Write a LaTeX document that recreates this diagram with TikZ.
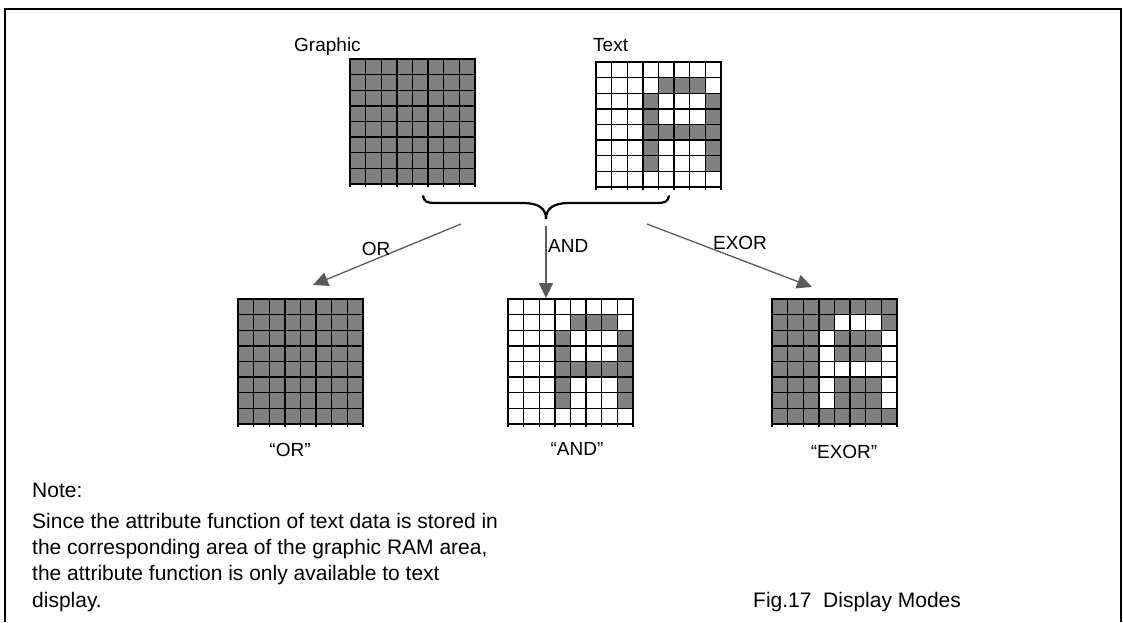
\documentclass[tikz,border=0pt]{standalone}
\usepackage{fontspec}
\setmainfont{Liberation Sans}
\usetikzlibrary{arrows.meta}
\definecolor{cellgray}{HTML}{808080}
\definecolor{arrowgray}{HTML}{5A5A5A}
\newcommand\gridframe[1]{%
  \node[inner sep=0pt, minimum width=125pt, minimum height=125pt, anchor=north west] (#1) at (\gx,\gy) {};}
\newcommand\gridlines{%
  \foreach \v in {0,15.625,31.25,46.875,62.5,78.125,93.75,109.375,125} {
    \draw[gridln] ({\gx+\v},\gy) -- ({\gx+\v},{\gy+128});
  }
  \foreach \v in {0,15.625,31.25,46.875,62.5,78.125,93.75,109.375,125} {
    \draw[gridln] ({\gx-0.6},{\gy+\v}) -- ({\gx+125.6},{\gy+\v});
  }}
\newcommand\fillall[1]{%
  \fill[#1] (\gx,\gy) rectangle ++(125,125);}
\newcommand\letterA[1]{%
  \foreach \cc/\rr in {4/1,5/1,6/1,3/2,7/2,3/3,7/3,3/4,4/4,5/4,6/4,7/4,3/5,7/5,3/6,7/6}
    \fill[#1] ({\gx+\cc*15.625},{\gy+\rr*15.625}) rectangle ++(15.625,15.625);}
\begin{document}
\begin{tikzpicture}[x=1pt,y=-1pt,
  gridln/.style={line width=1.3pt, black},
  lbl/.style={font=\fontsize{19}{22}\selectfont, inner sep=0pt},
  notetxt/.style={font=\fontsize{21}{25}\selectfont, inner sep=0pt, anchor=base west},
  oparrow/.style={draw=arrowgray, line width=1.3pt, -{Triangle[length=15pt,width=14pt]}, arrowgray},
  bracepath/.style={line width=2.2pt, line cap=round, black}]
\useasboundingbox (0,0) rectangle (1123,622);
% frame (open at bottom)
\draw[line width=2pt] (5,622) -- (5,9) -- (1121,9) -- (1121,622);

% top labels
\node[lbl, anchor=base west] (lg) at (294,51) {Graphic};
\node[lbl, anchor=base west] (lt) at (593,51) {Text};

% Graphic grid
\def\gx{350}\def\gy{59}
\gridframe{gG}
\fillall{cellgray}
\gridlines

% Text grid
\def\gx{596}\def\gy{62}
\gridframe{gT}
\letterA{cellgray}
\gridlines

% OR result
\def\gx{238}\def\gy{299}
\gridframe{gOR}
\fillall{cellgray}
\gridlines

% AND result
\def\gx{508}\def\gy{299}
\gridframe{gAND}
\letterA{cellgray}
\gridlines

% EXOR result
\def\gx{772}\def\gy{299}
\gridframe{gEX}
\fillall{cellgray}
\letterA{white}
\gridlines

% brace
\coordinate (bL) at (423,196);
\coordinate (bTip) at (546,219);
\coordinate (bR) at (669,196);
\draw[bracepath] (bL) .. controls (424,202) and (428,203) .. (435,203) -- (523,203)
  .. controls (538,203) and (546,208) .. (bTip)
  .. controls (546,208) and (554,203) .. (569,203) -- (657,203)
  .. controls (664,203) and (668,202) .. (bR);

% arrows
\coordinate (orS) at (461,224);
\coordinate (orE) at (313,285);
\coordinate (andS) at (546,226);
\coordinate (andE) at (546,298);
\coordinate (exS) at (647,224);
\coordinate (exE) at (812,287);
\draw[oparrow] (orS) -- (orE);
\draw[oparrow, line width=2pt] (andS) -- (andE);
\draw[oparrow] (exS) -- (exE);

\node[lbl] (lOR) at (376,249) {OR};
\node[lbl, anchor=west] (lAND) at (548,246) {AND};
\node[lbl] (lEX) at (740,243) {EXOR};

% result captions
\node[lbl] (cOR) at (290,450) {“OR”};
\node[lbl] (cAND) at (577,449) {“AND”};
\node[lbl] (cEX) at (844,452) {“EXOR”};

% note
\node[notetxt] (n0) at (32,497) {Note:};
\node[notetxt] (n1) at (32,528) {Since the attribute function of text data is stored in};
\node[notetxt] (n2) at (32,554) {the corresponding area of the graphic RAM area,};
\node[notetxt] (n3) at (32,580) {the attribute function is only available to text};
\node[notetxt] (n4) at (32,607) {display.};

\node[notetxt] (fig) at (753,607) {Fig.17\ \ Display Modes};
\end{tikzpicture}
\end{document}
